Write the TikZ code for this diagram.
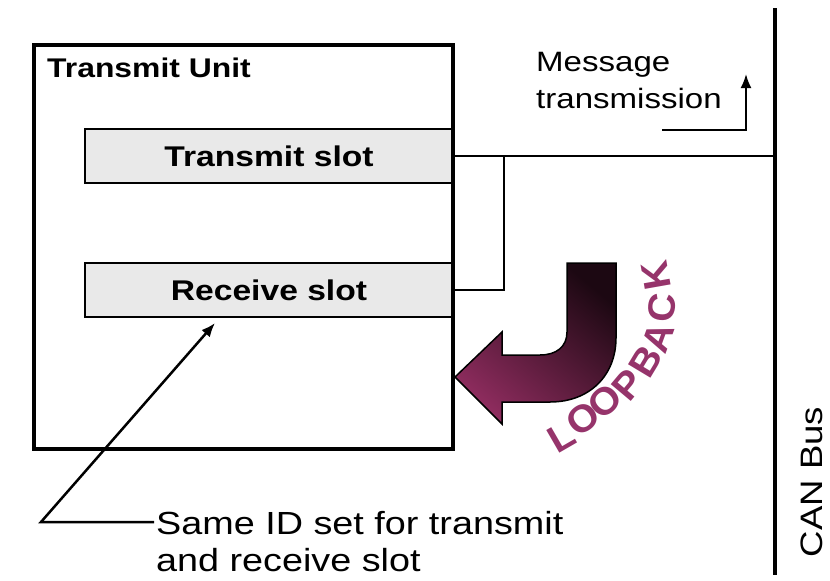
\documentclass[tikz,border=0pt]{standalone}
\usepackage{fontspec}
\setmainfont{Liberation Sans}[FakeStretch=1.18]
\newfontfamily\loopfont{Liberation Sans}[FakeStretch=1.05]
\usetikzlibrary{arrows.meta,calc}
\definecolor{loopdark}{HTML}{1C0812}
\definecolor{looplight}{HTML}{8E2C5E}
\definecolor{looptext}{HTML}{96346B}
\definecolor{slotgray}{HTML}{E9E9E9}
\begin{document}
\begin{tikzpicture}[x=1pt,y=-1pt,
  unitbox/.style={draw, line width=4pt, minimum width=419pt, minimum height=404pt, inner sep=0pt},
  slotbox/.style={draw, line width=1.5pt, fill=slotgray, minimum width=368pt, minimum height=54pt,
    inner sep=0pt, font=\fontsize{28.5}{32}\selectfont\bfseries},
  link/.style={line width=2pt},
  pointer/.style={line width=2.5pt, -{Latex[length=14pt,width=11pt]}},
  note/.style={inner sep=0pt, align=left},
  loopletter/.style={inner sep=0pt, text=looptext, font=\loopfont\fontsize{38}{38}\selectfont\bfseries},
]
\useasboundingbox (0,0) rectangle (830,581);

% slots inside the transmit unit
\node[slotbox] (tslot) at (269,156) {Transmit slot};
\node[slotbox] (rslot) at (269,290) {Receive slot};

% transmit unit frame and title
\node[unitbox] (unit) at (243.5,247) {};
\node[anchor=base west, inner sep=0pt, font=\fontsize{27}{30}\selectfont\bfseries] (unitlbl) at (47,77) {Transmit Unit};

% CAN bus line
\coordinate (bustop) at (775,8);
\coordinate (busbot) at (775,575);
\draw[line width=4pt] (bustop) -- (busbot);
\node[rotate=90, inner sep=0pt, font=\fontsize{31}{31}\selectfont] (buslbl) at (812,482) {CAN Bus};

% slot connections
\coordinate (tap) at (504,157);
\draw[link] (tslot.east) -- (tslot.east -| bustop);
\draw[link] (rslot.east) -| (tap);

% message transmission note
\node[note, anchor=north west, font=\fontsize{28}{37}\selectfont] (msg) at (536,52) {Message\\transmission};
\coordinate (msgfoot) at (662,130);
\coordinate (msgtip) at (746,74);
\draw[pointer, line width=2pt] (msgfoot) -| (msgtip);

% loopback arrow
\shadedraw[line width=1.5pt, draw=black, top color=loopdark, bottom color=looplight, shading angle=-40]
  (567,263) -- (616,263) -- (616,338)
  .. controls (616,375) and (590,402) .. (550,402)
  -- (502,402) -- (502,424) -- (455,377) -- (502,332) -- (502,355) -- (540,355)
  .. controls (556,355) and (567,347) .. (567,332) -- cycle;

% LOOPBACK lettering, one rotated letter at a time along the bend
\foreach \ch/\px/\py/\ang [count=\i] in
  {L/562/437/30, O/583/419/37, O/605/401/43, P/628/385/50,
   B/646/361/59, A/658/337/70, C/662/308/84, K/656/276/100}
  \node[loopletter, rotate=\ang] (loop\i) at (\px,\py) {\ch};

% shared ID note with leader
\node[note, anchor=north west, font=\fontsize{32}{37}\selectfont] (idtext) at (156,511) {Same ID set for transmit\\and receive slot};
\coordinate (bend) at (41,522);
\coordinate (idtip) at (215,323);
\draw[pointer] ($(idtext.north west)+(-2,11)$) -- (bend) -- (idtip);
\end{tikzpicture}
\end{document}
